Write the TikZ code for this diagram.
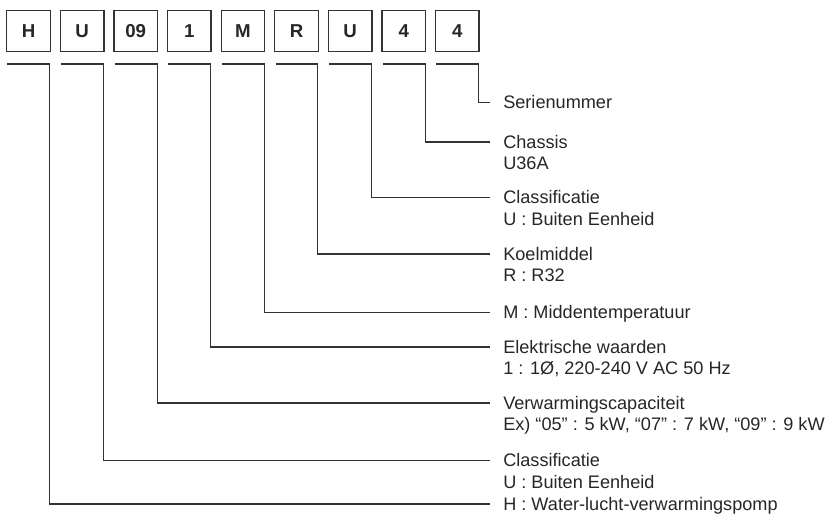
\documentclass[tikz,border=0pt]{standalone}
\usepackage{fontspec}
\setmainfont{Liberation Sans}
\usepackage{xcolor}
\usepackage{tikz}

\begin{document}
\begin{tikzpicture}[x=0.75pt, y=-0.75pt,
% common options for the code boxes:
box/.style = {draw=black!80, line width=1pt, align=center, minimum width=32.6pt,
            minimum height=31pt, inner sep=0, text=black!85,
            font=\fontsize{14}{16}\selectfont\bfseries},
% common options for the descriptions:
desc/.style = {anchor=west, inner xsep=9.75pt, inner ysep=0, text height=9.7pt,
            text depth=0pt, text=black!85, font=\fontsize{13.6}{16}\selectfont},
% common options for the lines:
link/.style = {draw=black!80, line width=0.8pt}]
\useasboundingbox (0,0) rectangle (833,515);
\node[box] (B1) at (28.5,31) {H};
\node[box] (B2) at (82.1,31) {U};
\node[box] (B3) at (135.7,31) {09};
\node[box] (B4) at (189.3,31) {1};
\node[box] (B5) at (242.9,31) {M};
\node[box] (B6) at (296.5,31) {R};
\node[box] (B7) at (350.1,31) {U};
\node[box] (B8) at (403.7,31) {4};
\node[box] (B9) at (457.3,31) {4};
\node[desc] (D9) at (490,102.5) {Serienummer};
\node[desc] (D8) at (490,142) {Chassis};
\node[desc] (D8b) at (490,163.5) {U36A};
\node[desc] (D7) at (490,197.5) {Classificatie};
\node[desc] (D7b) at (490,219) {U : Buiten Eenheid};
\node[desc] (D6) at (490,254) {Koelmiddel};
\node[desc] (D6b) at (490,275.5) {R : R32};
\node[desc] (D5) at (490,312.5) {M : Middentemperatuur};
\node[desc] (D4) at (490,347) {Elektrische waarden};
\node[desc] (D4b) at (490,368.5) {1 : 1Ø, 220-240 V AC 50 Hz};
\node[desc] (D3) at (490,403) {Verwarmingscapaciteit};
\node[desc] (D3b) at (490,424.5) {Ex) “05” : 5 kW, “07” : 7 kW, “09” : 9 kW};
\node[desc] (D2) at (490,460.5) {Classificatie};
\node[desc] (D2b) at (490,482) {U : Buiten Eenheid};
\node[desc] (D1) at (490,504) {H : Water-lucht-verwarmingspomp};
\coordinate (T1) at (7,64);
\coordinate (T2) at (61,64);
\coordinate (T3) at (114.5,64);
\coordinate (T4) at (168,64);
\coordinate (T5) at (222,64);
\coordinate (T6) at (275.5,64);
\coordinate (T7) at (329,64);
\coordinate (T8) at (382.5,64);
\coordinate (T9) at (436,64);
\draw[link] (T1) -| ([xshift=-0.75pt]B1.east |- D1.west) -- (D1.west);
\draw[link] (T2) -| ([xshift=-0.75pt]B2.east |- D2.west) -- (D2.west);
\draw[link] (T3) -| ([xshift=-0.75pt]B3.east |- D3.west) -- (D3.west);
\draw[link] (T4) -| ([xshift=-0.75pt]B4.east |- D4.west) -- (D4.west);
\draw[link] (T5) -| ([xshift=-0.75pt]B5.east |- D5.west) -- (D5.west);
\draw[link] (T6) -| ([xshift=-0.75pt]B6.east |- D6.west) -- (D6.west);
\draw[link] (T7) -| ([xshift=-0.75pt]B7.east |- D7.west) -- (D7.west);
\draw[link] (T8) -| ([xshift=-0.75pt]B8.east |- D8.west) -- (D8.west);
\draw[link] (T9) -| ([xshift=-0.75pt]B9.east |- D9.west) -- (D9.west);
\end{tikzpicture}
\end{document}
